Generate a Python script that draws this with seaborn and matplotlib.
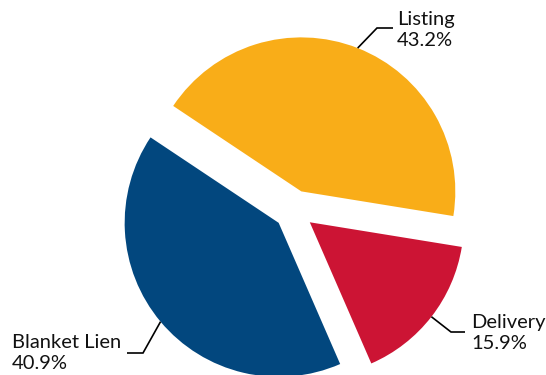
import matplotlib
matplotlib.use("Agg")
import math
import matplotlib.pyplot as plt
import seaborn as sns

# Share of each lien type (percent)
categories = ["Listing", "Delivery", "Blanket Lien"]
shares = [43.2, 15.9, 40.9]
colors = ["#F9AD18", "#CC1434", "#02477E"]

sns.set_theme(style="white")
plt.rcParams["font.family"] = ["Lato", "DejaVu Sans"]

W, H = 546, 375
fig = plt.figure(figsize=(W / 100, H / 100), dpi=100)
ax = fig.add_axes([0, 0, 1, 1])

R = 154          # pie radius in pixel units
GAP = 20         # distance each slice is pulled out
center = (294, H - 210)

wedges, _ = ax.pie(
    shares,
    colors=colors,
    startangle=146.3,
    counterclock=False,
    radius=R,
    center=center,
    explode=[GAP] * len(shares),
    wedgeprops=dict(linewidth=0),
)
ax.set_xlim(0, W)
ax.set_ylim(0, H)
ax.set_aspect("equal")
ax.axis("off")

# label layout: elbow point, end of leader, text anchor, alignment (pixel coords, y down)
layout = {
    "Listing": dict(elbow=(377, 28), end=(393, 28), text=(397, 30), ha="left"),
    "Delivery": dict(elbow=(451, 332), end=(465, 332), text=(471, 333), ha="left"),
    "Blanket Lien": dict(elbow=(143, 353), end=(127, 353), text=(121, 353), ha="right"),
}

for w, name, val in zip(wedges, categories, shares):
    mid = math.radians((w.theta1 + w.theta2) / 2)
    cx, cy = w.center
    p0 = (cx + w.r * math.cos(mid), cy + w.r * math.sin(mid))
    lay = layout[name]
    e = (lay["elbow"][0], H - lay["elbow"][1])
    f = (lay["end"][0], H - lay["end"][1])
    ax.plot([p0[0], e[0], f[0]], [p0[1], e[1], f[1]], color="black", lw=1.2,
            solid_capstyle="butt", solid_joinstyle="miter")
    ax.text(lay["text"][0], H - lay["text"][1], f"{name}\n{val:.1f}%",
            ha=lay["ha"], va="center", multialignment="left",
            fontsize=14.5, color="#111111", linespacing=1.3)

fig.savefig("out.png", dpi=100)
